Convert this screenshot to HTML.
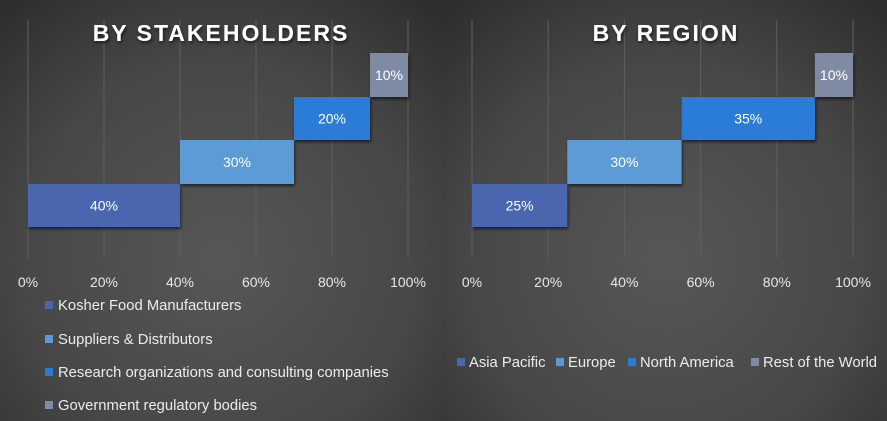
<!DOCTYPE html>
<html><head><meta charset="utf-8"><style>
html,body{margin:0;padding:0;background:#333;}
svg{display:block;font-family:"Liberation Sans","DejaVu Sans",sans-serif;}
</style></head><body>
<svg id="c" width="887" height="421" xmlns="http://www.w3.org/2000/svg">
<defs>
<radialGradient id="bgL" cx="220" cy="260" r="330" gradientUnits="userSpaceOnUse">
<stop offset="0" stop-color="#575757"/><stop offset="0.6" stop-color="#474747"/><stop offset="1" stop-color="#2e2e2e"/></radialGradient>
<radialGradient id="bgR" cx="665" cy="260" r="330" gradientUnits="userSpaceOnUse">
<stop offset="0" stop-color="#575757"/><stop offset="0.6" stop-color="#474747"/><stop offset="1" stop-color="#2e2e2e"/></radialGradient>
<filter id="sh"><feDropShadow dx="1" dy="2" stdDeviation="1.5" flood-color="#000" flood-opacity="0.6"/></filter>
</defs>
<rect x="0" y="0" width="444" height="421" fill="url(#bgL)"/>
<rect x="444" y="0" width="443" height="421" fill="url(#bgR)"/>
<g id="L"></g><g id="R"></g>
</svg>
<script>
const colors = ['#4a66ae','#5b9bd5','#2a7bd6','#7f8ba3'];
const ticks = [0,20,40,60,80,100];
const tickLabels = ['0%','20%','40%','60%','80%','100%'];
const stakeCats = ['Kosher Food Manufacturers','Suppliers & Distributors','Research organizations and consulting companies','Government regulatory bodies'];
const stakeVals = [40,30,20,10];
const regionCats = ['Asia Pacific','Europe','North America','Rest of the World'];
const regionVals = [25,30,35,10];
const NS='http://www.w3.org/2000/svg';
function mk(tag,attrs,parent,text){const e=document.createElementNS(NS,tag);for(const k in attrs)e.setAttribute(k,attrs[k]);if(text!==undefined)e.textContent=text;parent.appendChild(e);return e;}
function draw(g,x0,x1,title,titleX,vals,cats,legendVertical){
  const sx=v=>x0+(x1-x0)*v/100;
  const rowTop=[184,140,97,53], rowH=[43,44,43,44];
  ticks.forEach((t,i)=>{
    const ln=mk('line',{x1:sx(t),x2:sx(t),y1:20,y2:258,stroke:'#5f5f5f','stroke-width':1},g);
    
    
    const tx=mk('text',{x:sx(t),y:287,'text-anchor':'middle','font-size':14,fill:'#e8e8e8'},g,tickLabels[i]);
    
    
  });
  const tt=mk('text',{x:titleX,y:41,'text-anchor':'middle','font-size':23,'font-weight':'bold','letter-spacing':'2',fill:'#ffffff',filter:'url(#sh)'},g,title);
  
  
  let cum=0;
  vals.forEach((v,i)=>{
    const r=mk('rect',{x:sx(cum),y:rowTop[i],width:sx(cum+v)-sx(cum),height:rowH[i],fill:colors[i],filter:'url(#sh)'},g);
    
    
    const l=mk('text',{x:(sx(cum)+sx(cum+v))/2,y:rowTop[i]+rowH[i]/2+5,'text-anchor':'middle','font-size':14,fill:'#ffffff'},g,v+'%');
    
    
    cum+=v;
  });
  if(legendVertical){
    const ys=[305,339,372,405];
    cats.forEach((c,i)=>{
      const s=mk('rect',{x:45,y:ys[i]-4,width:8,height:8,fill:colors[i]},g);
      
      
      const t=mk('text',{x:58,y:ys[i]+5,'font-size':14.8,fill:'#ececec'},g,c);
      
      
    });
  } else {
    const xs=[457,556,628,751];
    cats.forEach((c,i)=>{
      const s=mk('rect',{x:xs[i],y:358,width:8,height:8,fill:colors[i]},g);
      
      
      const t=mk('text',{x:xs[i]+12,y:367,'font-size':14.8,fill:'#ececec'},g,c);
      
      
    });
  }
}
draw(document.getElementById('L'),28,408,'BY STAKEHOLDERS',221,stakeVals,stakeCats,true);
draw(document.getElementById('R'),472,853,'BY REGION',666,regionVals,regionCats,false);
</script>
</body></html>
